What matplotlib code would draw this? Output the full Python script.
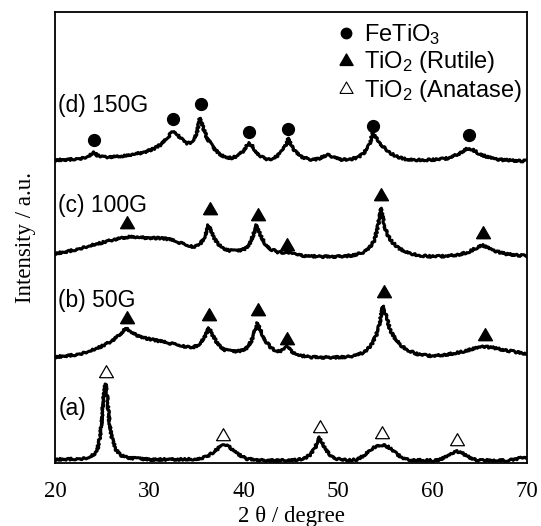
import matplotlib.pyplot as plt
from matplotlib.lines import Line2D

# XRD patterns (2theta in degree, intensity in a.u., already offset)
tt_a = [20.0, 22.0, 23.0, 23.6, 24.2, 24.5, 24.75, 24.95, 25.15, 25.35, 25.55, 25.75, 26.0, 26.4, 26.9,
        27.6, 28.5, 30.0, 33.0, 35.0, 36.0, 36.8, 37.4, 37.9, 38.4, 39.0, 39.7, 40.4, 42.0, 45.0, 46.3,
        47.0, 47.5, 47.8, 48.0, 48.2, 48.6, 49.1, 49.9, 51.0, 52.0, 52.8, 53.5, 54.2, 54.7, 55.3, 56.0,
        56.8, 57.5, 60.0, 60.8, 61.6, 62.2, 62.6, 63.1, 63.7, 64.3, 65.0, 68.0, 68.8, 70.0]
int_a = [2.5, 3, 3.5, 4.5, 8, 13, 25, 42, 65, 78, 62, 40, 25, 13, 7,
         4.5, 3.5, 2.5, 2.5, 3, 5, 10, 14.5, 17, 15.5, 11, 6, 3, 1.5, 1.5, 3,
         7, 13, 20, 25, 21, 13, 7, 3, 1.5, 2.5, 7, 13, 16.5, 17, 15, 9.5,
         4, 2, 1.5, 2.5, 6, 9.5, 10.5, 9, 5.5, 3, 1.5, 1.5, 3, 5]

tt_b = [20, 21, 22, 23, 24, 25, 26, 26.8, 27.3, 27.6, 28, 28.6, 29.5, 30.5, 31.5, 32.5, 33.5, 34.5,
        35.2, 35.8, 36.3, 36.8, 37.3, 38, 38.8, 39.6, 40.3, 40.8, 41.2, 41.45, 41.8, 42.3, 42.9, 43.6,
        44.2, 44.6, 45.0, 45.7, 47, 49, 51, 52, 52.8, 53.5, 54.0, 54.4, 54.75, 55.1, 55.5, 56, 56.6,
        57.3, 58.5, 60, 61.5, 63, 64.2, 65.3, 66.3, 67.3, 68.5, 70]
int_b = [105, 106, 107, 109, 112, 116, 121, 127, 132, 134, 130, 127, 124, 122, 120, 118, 116, 114,
         117, 124, 134, 125, 117, 112, 110.5, 111, 114, 121, 132, 139, 131, 121, 114, 110.5,
         112, 115.5, 111, 107, 105, 104.5, 105, 107, 110, 117, 126, 140, 156, 145, 132, 124, 117,
         112, 107.5, 106, 107.5, 110, 113, 115.5, 114.5, 112.5, 110.5, 108]

tt_c = [20, 21, 22, 23, 24, 25, 26, 27, 28, 29, 30, 31, 32, 33, 34, 34.8, 35.4, 35.9, 36.25, 36.6,
        37.1, 37.7, 38.5, 39.3, 40.1, 40.6, 41.0, 41.35, 41.7, 42.2, 42.8, 43.6, 44.3, 44.6, 45.0, 46,
        48, 50, 51.5, 52.5, 53.2, 53.8, 54.2, 54.5, 54.85, 55.2, 55.7, 56.4, 57.2, 58.5, 60, 61.5,
        62.8, 63.8, 64.6, 65.2, 65.8, 66.6, 67.8, 70]
int_c = [208.5, 210, 212, 214.5, 217, 219.5, 222, 224, 225.5, 224.5, 224, 224, 223, 220, 216.5, 215,
         218, 226, 237, 229, 220, 214, 211.5, 211, 213, 218, 227, 237, 228, 219, 213, 210, 209.5,
         210.5, 208.5, 206.5, 205.5, 205.5, 206.5, 209, 213, 221, 235, 254, 238, 227, 220, 214, 210,
         206.5, 205.5, 206, 207.5, 210, 214, 217, 214.5, 211, 208, 206]

tt_d = [20, 21.5, 23, 23.7, 24.1, 24.5, 25.3, 26.5, 27.5, 28.5, 29.5, 30.5, 31.3, 31.9, 32.3, 32.6,
        33.0, 33.5, 34.0, 34.5, 35.0, 35.35, 35.7, 36.1, 36.7, 37.3, 38.0, 38.7, 39.3, 39.9, 40.3,
        40.6, 40.9, 41.4, 42.0, 42.6, 43.3, 43.9, 44.4, 44.7, 45.0, 45.5, 46.2, 47.0, 47.9, 48.4,
        48.9, 49.5, 50.2, 51.2, 52.2, 52.8, 53.3, 53.65, 54.0, 54.6, 55.3, 56.2, 57.3, 59, 60.5,
        61.7, 62.7, 63.4, 63.8, 64.3, 65.0, 65.8, 67, 68.5, 70]
int_d = [302, 302.5, 304, 306.5, 310, 306.5, 305, 305.5, 306.5, 308, 310, 313.5, 318, 324, 329, 330.5,
         327, 322, 318.5, 320, 328, 344, 334, 324, 315, 309, 305, 304, 306, 310.5, 316,
         319, 316, 309, 304.5, 302.5, 304.5, 309, 316, 324, 317, 310, 305, 302.5, 303, 305.5,
         307, 305, 302.5, 302.5, 305, 310, 318, 328.5, 324, 317, 310, 305.5, 302.5, 302, 302.5,
         304, 308, 312, 314, 312, 308, 305, 302.5, 301.5, 301]

# peak markers
fetio3_x = [24.1, 32.5, 35.5, 40.6, 44.7, 53.7, 63.8]
fetio3_y = [322, 343, 358, 330, 333, 336, 327]
rutile_b_x = [27.6, 36.3, 41.5, 44.6, 54.8, 65.5]
rutile_b_y = [144, 147, 152, 123, 170, 127]
rutile_c_x = [27.6, 36.4, 41.5, 44.6, 54.5, 65.3]
rutile_c_y = [239, 253, 247, 217, 267, 229]
anatase_x = [25.4, 37.8, 48.1, 54.6, 62.6]
anatase_y = [90, 27, 35, 29, 22]

sample_labels = ['(a)', '(b) 50G', '(c) 100G', '(d) 150G']
label_y = [53, 162, 257, 357]

plt.rcParams['mathtext.fontset'] = 'custom'
plt.rcParams['mathtext.rm'] = 'Liberation Sans'
plt.rcParams['mathtext.default'] = 'rm'

tri = [(-1, -0.75), (1, -0.75), (0, 0.98), (-1, -0.75)]

fig = plt.figure(figsize=(5.41, 5.26), dpi=100)
ax = fig.add_axes([0.1017, 0.1198, 0.8725, 0.8572])

for tt, iy in [(tt_a, int_a), (tt_b, int_b), (tt_c, int_c), (tt_d, int_d)]:
    ln, = ax.plot(tt, iy, color='black', lw=2.2, solid_joinstyle='round')
    ln.set_sketch_params(scale=1.0, length=1.0, randomness=4)

ax.plot(fetio3_x, fetio3_y, ls='none', marker='o', ms=8.5, color='black')
ax.plot(rutile_b_x, rutile_b_y, ls='none', marker=tri, ms=10, color='black')
ax.plot(rutile_c_x, rutile_c_y, ls='none', marker=tri, ms=10, color='black')
ax.plot(anatase_x, anatase_y, ls='none', marker=tri, ms=10, mfc='white', mec='black', mew=0.9)

for lab, yy in zip(sample_labels, label_y):
    ax.text(20.35, yy, lab, fontsize=16.5, family='Liberation Sans', va='center', ha='left')

handles = [Line2D([], [], ls='none', marker='o', ms=7.5, color='black'),
           Line2D([], [], ls='none', marker=tri, ms=9.5, color='black'),
           Line2D([], [], ls='none', marker=tri, ms=9.5, mfc='white', mec='black', mew=0.8)]
labels = ['FeTiO$_3$', 'TiO$_2$ (Rutile)', 'TiO$_2$ (Anatase)']
ax.legend(handles, labels, loc='upper right', bbox_to_anchor=(0.988, 0.978), frameon=False,
          prop={'family': 'Liberation Sans', 'size': 17}, handlelength=0.6, handletextpad=0.45,
          labelspacing=0.1, borderpad=0, borderaxespad=0)

ax.set_xlim(20, 70)
ax.set_ylim(-1, 450)
ax.set_yticks([])
ax.set_xticks([20, 30, 40, 50, 60, 70])
ax.tick_params(axis='x', length=0, pad=13, labelsize=16.5)
for t in ax.get_xticklabels():
    t.set_family('Liberation Serif')
for s in ax.spines.values():
    s.set_linewidth(1.3)

ax.set_xlabel('2 θ / degree', family='Liberation Serif', fontsize=16.5, labelpad=3)
ax.set_ylabel('Intensity / a.u.', family='Liberation Serif', fontsize=16.5, labelpad=14)

fig.savefig('out.png', dpi=100)
